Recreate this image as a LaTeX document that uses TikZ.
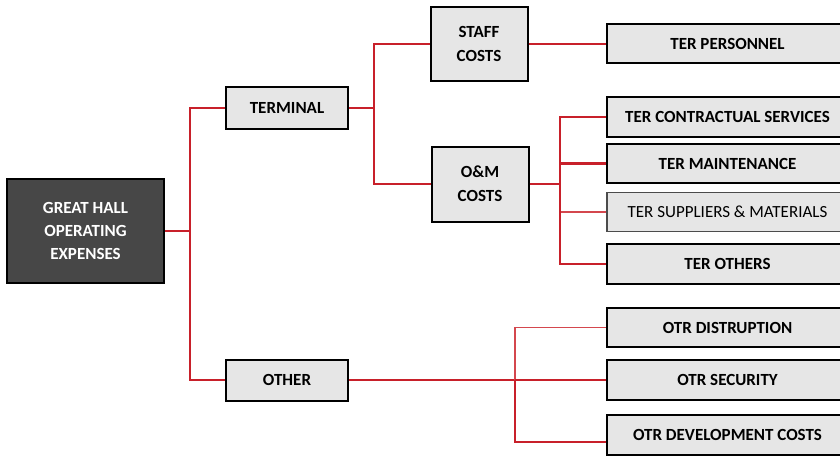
\documentclass[tikz,border=0pt]{standalone}
\usepackage{fontspec}
\setmainfont{Carlito}
\definecolor{linkred}{HTML}{C8202A}
\definecolor{linkpale}{HTML}{D4474E}
\definecolor{boxfill}{HTML}{E6E6E6}
\definecolor{rootfill}{HTML}{474747}
\begin{document}
\begin{tikzpicture}[x=1pt,y=-1pt,
  box/.style={draw=black,line width=2pt,fill=boxfill,inner sep=0pt,
    align=center,font=\bfseries\fontsize{17}{23}\selectfont},
  rootbox/.style={box,fill=rootfill,text=white},
  leafbox/.style={box,minimum width=241pt,minimum height=39.5pt},
  paleleaf/.style={leafbox,draw=black!70,line width=1.1pt,font=\fontsize{17}{23}\selectfont},
  link/.style={draw=linkred,line width=2.2pt},
  palelink/.style={draw=linkpale,line width=1.5pt}]
\useasboundingbox (0,0) rectangle (840,456);
\clip (0,0) rectangle (840,456);

% tree nodes
\node[rootbox,minimum width=157pt,minimum height=104pt] (root) at (85.5,231) {GREAT HALL\\OPERATING\\EXPENSES};
\node[box,minimum width=122pt,minimum height=42pt] (terminal) at (287,108) {TERMINAL};
\node[box,minimum width=122pt,minimum height=41pt] (other) at (287,380) {OTHER};
\node[box,minimum width=97pt,minimum height=74pt,font=\bfseries\fontsize{17}{24}\selectfont] (staff) at (479,44) {STAFF\\COSTS};
\node[box,minimum width=97pt,minimum height=75pt,font=\bfseries\fontsize{17}{24}\selectfont] (om) at (480,184) {O\&M\\COSTS};

\node[leafbox] (personnel) at (727.5,43.5) {TER PERSONNEL};
\node[leafbox] (contract) at (727.5,117) {TER CONTRACTUAL SERVICES};
\node[leafbox] (maint) at (727.5,163.5) {TER MAINTENANCE};
\node[paleleaf] (suppliers) at (727.5,212) {TER SUPPLIERS \& MATERIALS};
\node[leafbox] (terothers) at (727.5,264) {TER OTHERS};
\node[leafbox] (otrdis) at (727.5,327.5) {OTR DISTRUPTION};
\node[leafbox] (otrsec) at (727.5,380) {OTR SECURITY};
\node[leafbox] (otrdev) at (727.5,435) {OTR DEVELOPMENT COSTS};

% junction points of the buses
\coordinate (j0) at (190,231);
\coordinate (j1) at (374,108);
\coordinate (j2) at (560,184);
\coordinate (j3) at (515,380);

% connectors
\draw[link] (root.east) -- (j0);
\draw[link] (j0) |- (terminal.west);
\draw[link] (j0) |- (other.west);

\draw[link] (terminal.east) -- (j1);
\draw[link] (j1) |- (staff.west);
\draw[link] (j1) |- (om.west);

\draw[link] (staff.east) -- (personnel.west |- staff.east);

\draw[link] (om.east) -- (j2);
\draw[link] (j2) |- (contract.west);
\draw[link] (j2) |- (maint.west);
\draw[palelink] (j2) |- (suppliers.west);
\draw[link] (j2) |- (terothers.west);

\draw[link] (other.east) -- (j3);
\draw[palelink] (j3) |- (otrdis.west);
\draw[link] (j3) |- (otrsec.west);
\draw[link] (j3) |- ([yshift=-7pt]otrdev.west);
\end{tikzpicture}
\end{document}
